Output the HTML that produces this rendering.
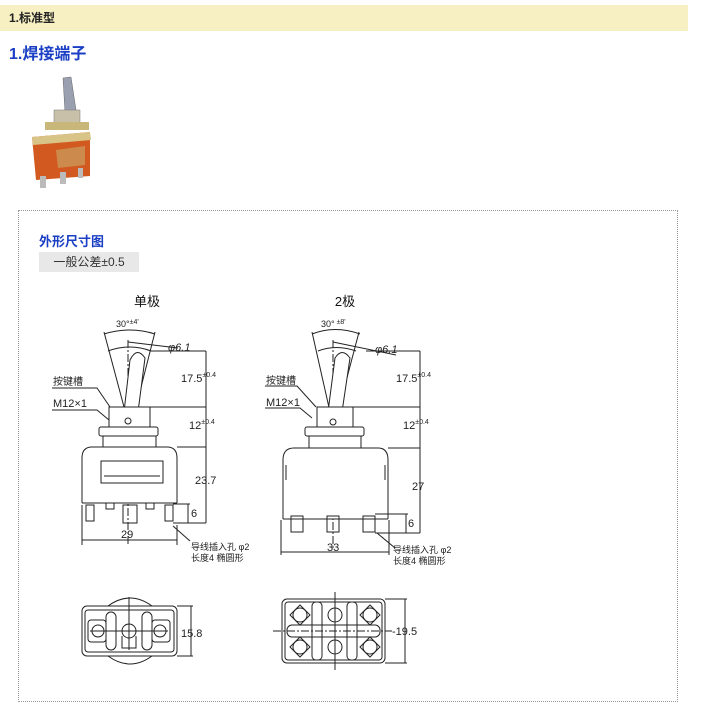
<!DOCTYPE html>
<html><head><meta charset="utf-8"><style>
body{margin:0;width:703px;height:703px;background:#fff;font-family:"Liberation Sans","Noto Sans CJK SC",sans-serif;position:relative;overflow:hidden}
.hdr{position:absolute;left:0;top:5px;width:688px;height:26px;background:#f7f0c2;font-size:12px;font-weight:bold;line-height:26px;color:#222;padding-left:9px;box-sizing:border-box}
.t1{position:absolute;left:9px;top:40px;font-size:16px;font-weight:bold;color:#1a3fc4}
.box{position:absolute;left:18px;top:210px;width:660px;height:492px;border:1px dotted #999;box-sizing:border-box}
.t2{position:absolute;left:39px;top:231px;font-size:13px;font-weight:bold;color:#1a3fc4}
.tol{position:absolute;left:39px;top:252px;width:100px;height:20px;background:#e8e8e8;font-size:12px;color:#333;line-height:20px;text-align:center}
svg{position:absolute;left:0;top:0}
</style></head><body>
<div class="hdr">1.标准型</div>
<div class="t1">1.焊接端子</div>
<div class="box"></div>
<div class="t2">外形尺寸图</div>
<div class="tol">一般公差±0.5</div>
<svg width="703" height="703" viewBox="0 0 703 703" font-family="Liberation Sans, Noto Sans CJK SC, sans-serif">
<g>
<path d="M63 78 L71 77 L76 110 L65 112 Z" fill="#9aa0b0" stroke="#666" stroke-width="0.5"/>
<rect x="54" y="110" width="26" height="14" fill="#c8c0a8" stroke="#777" stroke-width="0.5"/>
<rect x="45" y="122" width="44" height="8" fill="#c9b77a"/>
<path d="M32 137 L90 132 L90 176 L36 180 Z" fill="#d2591f"/>
<path d="M32 137 L90 132 L91 140 L33 145 Z" fill="#d8c487"/>
<path d="M56 150 L85 146 L85 165 L58 168 Z" fill="#c9a060" opacity="0.7"/>
<rect x="40" y="176" width="6" height="12" fill="#bbb"/><rect x="60" y="172" width="6" height="12" fill="#bbb"/><rect x="78" y="168" width="5" height="10" fill="#bbb"/>
</g>
<g fill="#111" font-size="13" text-anchor="middle"><text x="147" y="306">单极</text><text x="345" y="306">2极</text></g>
<g stroke="#222" stroke-width="1" fill="none">
<line x1="128" y1="340" x2="128" y2="545" stroke-dasharray="8,2,2,2"/>
<path d="M104 332 L124 407 M155 332 L136 407"/>
<path d="M104 334 Q130 326 155 334 M108 351 Q130 343 151 351" />
<path d="M124 412 L130 360 Q137 346 145 358 L138 412 Z" fill="#fff"/>
<line x1="128" y1="342" x2="178" y2="348"/>
<line x1="150" y1="351" x2="206" y2="351"/>
<rect x="109" y="407" width="41" height="20" fill="#fff"/>
<circle cx="128" cy="421" r="3"/>
<rect x="99" y="427" width="59" height="9" rx="2" fill="#fff"/>
<rect x="103" y="436" width="53" height="11" fill="#fff"/>
<path d="M82 503 L82 458 Q82 447 92 447 L167 447 Q177 447 177 458 L177 503" fill="#fff"/>
<rect x="101" y="461" width="62" height="22"/>
<path d="M104 476 L160 476"/>
<line x1="82" y1="503" x2="177" y2="503"/>
<rect x="86" y="505" width="8" height="16"/><rect x="123" y="505" width="14" height="18"/><rect x="165" y="505" width="8" height="16"/>
<rect x="106" y="503" width="8" height="6"/><rect x="146" y="503" width="8" height="6"/>
<line x1="150" y1="407" x2="206" y2="407"/><line x1="177" y1="447" x2="206" y2="447"/>
<line x1="206" y1="351" x2="206" y2="523"/><line x1="173" y1="523" x2="206" y2="523"/><line x1="173" y1="504" x2="190" y2="504"/><line x1="188" y1="504" x2="188" y2="523"/>
<line x1="82" y1="505" x2="82" y2="545"/><line x1="177" y1="525" x2="177" y2="545"/><line x1="82" y1="540" x2="177" y2="540"/>
<path d="M52 388 L97 388 L110 407 M52 410 L97 410 L109 420"/>
<path d="M173 526 L190 541"/>
<line x1="333" y1="340" x2="333" y2="550" stroke-dasharray="8,2,2,2"/>
<path d="M312 332 L330 412 M359 332 L338 412"/>
<path d="M312 334 Q335 325 360 334 M318 351 Q336 344 356 351"/>
<path d="M328 412 L335 358 Q342 347 350 358 L342 412 Z" fill="#fff"/>
<line x1="333" y1="342" x2="396" y2="355"/>
<line x1="366" y1="351" x2="420" y2="351"/>
<rect x="317" y="407" width="36" height="20" fill="#fff"/>
<circle cx="333" cy="422" r="3"/>
<rect x="305" y="427" width="59" height="9" rx="2" fill="#fff"/>
<rect x="309" y="436" width="52" height="12" fill="#fff"/>
<path d="M283 519 L283 460 Q283 448 294 448 L378 448 Q388 448 388 460 L388 519" fill="#fff"/>
<path d="M286 465 L286 480 M385 465 L385 480"/>
<line x1="283" y1="519" x2="388" y2="519"/>
<rect x="291" y="516" width="12" height="16"/><rect x="327" y="516" width="12" height="16"/><rect x="363" y="516" width="12" height="16"/>
<line x1="353" y1="407" x2="420" y2="407"/><line x1="388" y1="448" x2="420" y2="448"/>
<line x1="420" y1="351" x2="420" y2="533"/><line x1="375" y1="533" x2="420" y2="533"/><line x1="375" y1="514" x2="408" y2="514"/><line x1="406" y1="514" x2="406" y2="533"/>
<line x1="281" y1="520" x2="281" y2="555"/><line x1="389" y1="520" x2="389" y2="555"/><line x1="281" y1="552" x2="389" y2="552"/>
<path d="M265 386 L297 386 L316 407 M265 408 L300 408 L312 418"/>
<path d="M377 533 L395 548"/>
<path d="M108 606 Q130 590 152 606 M108 656 Q130 672 152 656"/>
<rect x="82" y="606" width="95" height="50" rx="5" fill="#fff"/>
<rect x="85" y="610" width="89" height="42" rx="3"/>
<rect x="106" y="612" width="10" height="38" rx="5"/><rect x="142" y="612" width="10" height="38" rx="5"/>
<rect x="88" y="620" width="18" height="22" rx="3"/><rect x="152" y="620" width="18" height="22" rx="3"/>
<circle cx="98" cy="631" r="6"/><circle cx="129" cy="631" r="7"/><circle cx="160" cy="631" r="6"/>
<path d="M122 636 L122 648 L136 648 L136 636"/>
<line x1="90" y1="631" x2="168" y2="631"/><line x1="129" y1="597" x2="129" y2="650"/>
<line x1="177" y1="606" x2="193" y2="606"/><line x1="177" y1="656" x2="193" y2="656"/><line x1="191" y1="606" x2="191" y2="656"/>
<rect x="282" y="599" width="103" height="64" rx="5" fill="#fff"/>
<rect x="285" y="602" width="97" height="58" rx="3"/>
<rect x="312" y="602" width="10" height="58" rx="4"/><rect x="347" y="602" width="10" height="58" rx="4"/>
<rect x="287" y="625" width="93" height="12" rx="5"/>
<circle cx="300" cy="615" r="7"/><circle cx="335" cy="615" r="7"/><circle cx="370" cy="615" r="7"/>
<circle cx="300" cy="647" r="7"/><circle cx="335" cy="647" r="7"/><circle cx="370" cy="647" r="7"/>
<path d="M290 615 L300 605 L310 615 L300 625Z M360 615 L370 605 L380 615 L370 625Z M290 647 L300 637 L310 647 L300 657Z M360 647 L370 637 L380 647 L370 657Z"/>
<line x1="273" y1="631" x2="392" y2="631" stroke-dasharray="8,2,2,2"/><line x1="335" y1="592" x2="335" y2="670"/>
<line x1="385" y1="599" x2="407" y2="599"/><line x1="385" y1="663" x2="407" y2="663"/><line x1="405" y1="599" x2="405" y2="663"/>
</g>
<g fill="#222" font-size="11">
<text x="116" y="327" font-size="9">30°<tspan font-size="7" dy="-3">±4'</tspan></text>
<text x="168" y="351" font-style="italic">φ6.1</text>
<text x="181" y="382">17.5<tspan font-size="7" dy="-5">±0.4</tspan></text>
<text x="189" y="429">12<tspan font-size="7" dy="-5">±0.4</tspan></text>
<text x="195" y="484">23.7</text>
<text x="191" y="517">6</text>
<text x="121" y="538">29</text>
<text x="53" y="385" font-size="10">按键槽</text>
<text x="53" y="407">M12×1</text>
<text x="191" y="550" font-size="9">导线插入孔 φ2</text>
<text x="191" y="561" font-size="9">长度4 椭圆形</text>
<text x="321" y="327" font-size="9">30°<tspan font-size="7" dy="-3"> ±8'</tspan></text>
<text x="375" y="353" font-style="italic">φ6.1</text>
<text x="396" y="382">17.5<tspan font-size="7" dy="-5">±0.4</tspan></text>
<text x="403" y="429">12<tspan font-size="7" dy="-5">±0.4</tspan></text>
<text x="412" y="490">27</text>
<text x="408" y="527">6</text>
<text x="327" y="551">33</text>
<text x="266" y="384" font-size="10">按键槽</text>
<text x="266" y="406">M12×1</text>
<text x="393" y="553" font-size="9">导线插入孔 φ2</text>
<text x="393" y="564" font-size="9">长度4 椭圆形</text>
<text x="181" y="637">15.8</text>
<text x="392" y="635">-19.5</text>
</g>
</svg>
</body></html>
